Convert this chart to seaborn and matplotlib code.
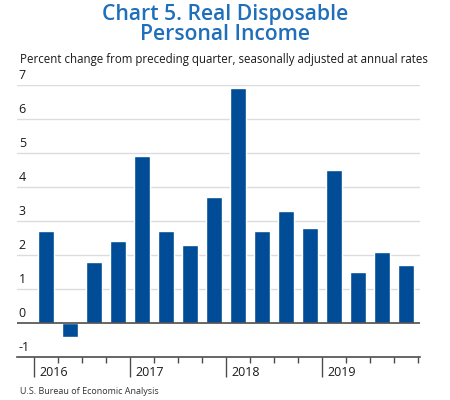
import matplotlib
matplotlib.use('Agg')
import matplotlib.pyplot as plt
import matplotlib.transforms as mtransforms
import seaborn as sns
import pandas as pd

# ### chart data
quarters = ['2016Q1', '2016Q2', '2016Q3', '2016Q4',
            '2017Q1', '2017Q2', '2017Q3', '2017Q4',
            '2018Q1', '2018Q2', '2018Q3', '2018Q4',
            '2019Q1', '2019Q2', '2019Q3', '2019Q4']
values = [2.7, -0.4, 1.8, 2.4,
          4.9, 2.7, 2.3, 3.7,
          6.9, 2.7, 3.3, 2.8,
          4.5, 1.5, 2.1, 1.7]
years = ['2016', '2017', '2018', '2019']
yticks = [-1, 0, 1, 2, 3, 4, 5, 6, 7]

title = 'Chart 5. Real Disposable\nPersonal Income'
subtitle = 'Percent change from preceding quarter, seasonally adjusted at annual rates'
source = 'U.S. Bureau of Economic Analysis'

bar_color = '#004C97'
title_color = '#1F6FBA'
grid_color = '#DCDCDC'
axis_color = '#4D4D4D'

sns.set_style('white')
plt.rcParams['font.family'] = ['Open Sans', 'DejaVu Sans']

df = pd.DataFrame({'quarter': quarters, 'value': values})

fig = plt.figure(figsize=(4.5, 4.0), dpi=100)
ax = fig.add_axes([0.038, 0.1075, 0.895, 0.68])

sns.barplot(data=df, x='quarter', y='value', color=bar_color,
            width=0.67, saturation=1, ax=ax, zorder=3)

ax.set_xlim(-1.21, 15.58)
ax.set_ylim(-1, 7)

# gridlines
for v in yticks[2:]:
    ax.axhline(v, color=grid_color, lw=1.0, zorder=1)
ax.axhline(0, color=axis_color, lw=1.2, zorder=4)

for s in ['top', 'right', 'left']:
    ax.spines[s].set_visible(False)
ax.spines['bottom'].set_color(axis_color)
ax.spines['bottom'].set_linewidth(1.2)

# y labels sit above the gridlines
ax.set_yticks([])
ytrans = mtransforms.blended_transform_factory(ax.transAxes, ax.transData)
for v in yticks:
    ax.annotate(str(v), xy=(0.004, v), xycoords=ytrans,
                xytext=(0, 2.5), textcoords='offset points',
                ha='left', va='bottom', fontsize=9, color='#1a1a1a')

# x ticks: quarter boundaries, longer ones at year starts
bounds = [i - 0.5 for i in range(len(quarters) + 1)]
year_bounds = bounds[0:len(quarters):4]
ax.set_xticks(year_bounds)
ax.set_xticks([b for b in bounds if b not in year_bounds], minor=True)
ax.set_xticklabels([])
ax.tick_params(axis='x', which='major', length=14.5, width=1.0,
               color=axis_color, direction='out', bottom=True)
ax.tick_params(axis='x', which='minor', length=4.3, width=1.0,
               color=axis_color, direction='out', bottom=True)
ax.set_xlabel('')
ax.set_ylabel('')

xtrans = mtransforms.blended_transform_factory(ax.transData, ax.transAxes)
for b, yr in zip(year_bounds, years):
    ax.text(b + 0.22, -0.058, yr, transform=xtrans, ha='left', va='center',
            fontsize=9, color='#1a1a1a')

fig.text(0.5, 0.99, title, ha='center', va='top', fontsize=15.2,
         fontweight='semibold', color=title_color, linespacing=0.95)
fig.text(0.044, 0.85, subtitle, ha='left', va='center', fontsize=8.3,
         color='#1a1a1a')
fig.text(0.044, 0.02, source, ha='left', va='center', fontsize=6.5,
         color='#333333')

fig.savefig('out.png', dpi=100)
